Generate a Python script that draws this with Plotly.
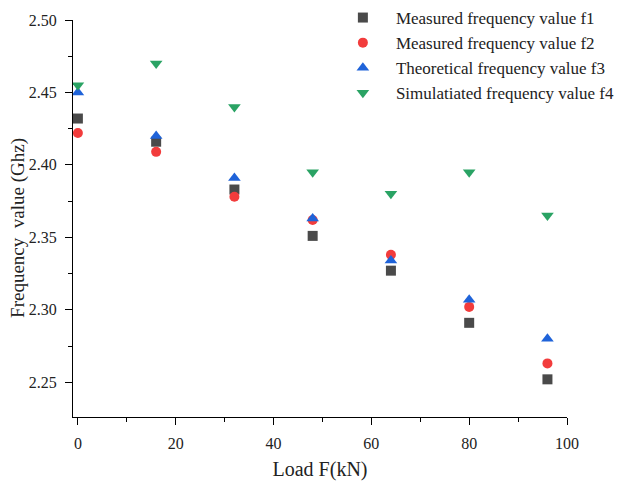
import plotly.graph_objects as go

load = [0, 16, 32, 48, 64, 80, 96]
f1 = [2.432, 2.416, 2.383, 2.351, 2.327, 2.291, 2.252]
f2 = [2.422, 2.409, 2.378, 2.362, 2.338, 2.302, 2.263]
f3 = [2.450, 2.420, 2.391, 2.363, 2.334, 2.307, 2.280]
f4 = [2.455, 2.470, 2.440, 2.395, 2.380, 2.395, 2.365]

names = ["Measured frequency value f1", "Measured frequency value f2",
         "Theoretical frequency value f3", "Simulatiated frequency value f4"]
series = [f1, f2, f3, f4]
colors = ["#4a4a4a", "#f23c3c", "#1f63d9", "#2aa364"]
symbols = ["square", "circle", "triangle-up", "triangle-down"]
sizes = [10, 10, 11, 11]

FONT = "Liberation Serif, Times New Roman, serif"

fig = go.Figure()
for n, s, c, sym, sz in zip(names, series, colors, symbols, sizes):
    fig.add_trace(go.Scatter(x=load, y=s, mode="markers", name=n,
                             marker=dict(color=c, symbol=sym, size=sz, line=dict(width=0))))

axis_common = dict(showline=True, linecolor="black", linewidth=1, ticks="outside",
                   ticklen=7, tickcolor="black", showgrid=False, zeroline=False,
                   tickfont=dict(family=FONT, size=16, color="#222"), mirror=False,
                   automargin=False)

fig.update_xaxes(range=[-1, 100], dtick=20, tick0=0, ticklabelstandoff=5,
                 minor=dict(ticks="outside", ticklen=4, dtick=10, tick0=0, tickcolor="black"),
                 title=dict(text="Load F(kN)", font=dict(family=FONT, size=20, color="#222"), standoff=11),
                 **axis_common)
fig.update_yaxes(range=[2.226, 2.50], dtick=0.05, tick0=2.25, tickformat=".2f", ticklabelstandoff=5,
                 minor=dict(ticks="outside", ticklen=4, dtick=0.025, tick0=2.25, tickcolor="black"),
                 **axis_common)

fig.add_annotation(text="Frequency\u00a0 value (Ghz)", textangle=-90, showarrow=False,
                   xref="paper", yref="paper", x=(18 - 73) / 493, y=(417 - 228) / 397,
                   xanchor="center", yanchor="middle",
                   font=dict(family=FONT, size=19, color="#222"))

fig.update_layout(
    width=636, height=481,
    margin=dict(l=73, r=69, t=20, b=64, autoexpand=False),
    paper_bgcolor="white", plot_bgcolor="white",
    font=dict(family=FONT, color="#222"),
    legend=dict(x=0.52, y=1.008, xanchor="left", yanchor="top", yref="container",
                font=dict(family=FONT, size=17, color="#222"),
                bgcolor="rgba(0,0,0,0)", itemwidth=56, tracegroupgap=0),
    showlegend=True,
)

fig.write_html("out.html")
